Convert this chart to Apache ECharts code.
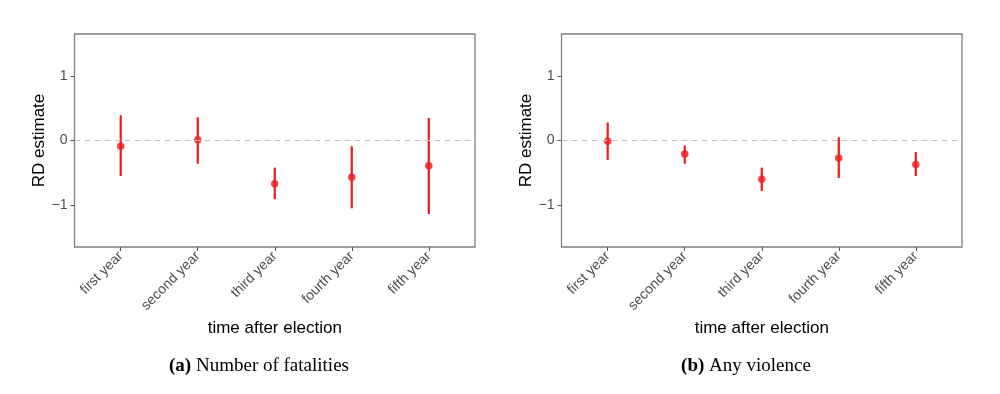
<!DOCTYPE html>
<html><head><meta charset="utf-8">
<script src="https://cdn.jsdelivr.net/npm/echarts@6/dist/echarts.min.js"></script>
<style>html,body{margin:0;padding:0;background:#fff}#c{width:1000px;height:394px}</style>
</head><body><div id="c"></div>
<script>
var categories = ['first year','second year','third year','fourth year','fifth year'];
var yTicks = [-1, 0, 1];
// Panel (a) Number of fatalities
var fatalEst   = [-0.09, 0.01, -0.67, -0.57, -0.39];
var fatalLow   = [-0.55, -0.36, -0.91, -1.05, -1.14];
var fatalHigh  = [0.39, 0.36, -0.42, -0.09, 0.35];
// Panel (b) Any violence
var violEst    = [-0.01, -0.21, -0.60, -0.27, -0.37];
var violLow    = [-0.30, -0.36, -0.78, -0.58, -0.55];
var violHigh   = [0.28, -0.08, -0.42, 0.05, -0.18];
var captions = [['(a)','Number of fatalities'],['(b)','Any violence']];

var RED = '#f0191c';
var xPos = categories.map(function(c,i){return i+1;});

function xAxisCfg(idx){
  return {
    type:'value', gridIndex:idx, min:0.4, max:5.6, position:'bottom',
    name:'time after election', nameLocation:'middle', nameGap:70,
    nameTextStyle:{color:'#000', fontSize:17, fontFamily:'Liberation Sans, Arial, sans-serif'},
    axisLine:{show:false, onZero:false},
    splitLine:{show:false},
    axisTick:{show:true, inside:false, customValues:xPos, length:4, lineStyle:{color:'#555', width:1}},
    axisLabel:{customValues:xPos, rotate:45, margin:7, color:'#4d4d4d', fontSize:14,
      fontFamily:'Liberation Sans, Arial, sans-serif',
      formatter:function(v){return categories[Math.round(v)-1] || '';}}
  };
}
function yAxisCfg(idx){
  return {
    type:'value', gridIndex:idx, min:-1.65, max:1.65, position:'left',
    name:'RD estimate', nameLocation:'middle', nameGap:27,
    nameTextStyle:{color:'#000', fontSize:17, fontFamily:'Liberation Sans, Arial, sans-serif'},
    axisLine:{show:false, onZero:false}, splitLine:{show:false},
    axisTick:{show:true, inside:false, customValues:yTicks, length:4, lineStyle:{color:'#555', width:1}},
    axisLabel:{customValues:yTicks, margin:7, color:'#4d4d4d', fontSize:14,
      fontFamily:'Liberation Sans, Arial, sans-serif',
      formatter:function(v){return v<0 ? '\u2212'+Math.abs(v) : String(v);}}
  };
}
function errSeries(idx, low, high){
  var data = xPos.map(function(x,i){return [x, low[i], high[i]];});
  return {
    type:'custom', xAxisIndex:idx, yAxisIndex:idx, data:data, z:3,
    renderItem:function(params, api){
      var p1 = api.coord([api.value(0), api.value(1)]);
      var p2 = api.coord([api.value(0), api.value(2)]);
      return {type:'line', shape:{x1:p1[0], y1:p1[1], x2:p2[0], y2:p2[1]},
        style:{stroke:RED, lineWidth:2.2}};
    }
  };
}
function ptSeries(idx, est){
  return {
    type:'scatter', xAxisIndex:idx, yAxisIndex:idx, z:4,
    data:xPos.map(function(x,i){return [x, est[i]];}),
    symbol:'circle', symbolSize:7.5, itemStyle:{color:RED},
    markLine:{silent:true, symbol:'none', label:{show:false},
      lineStyle:{color:'#c4c4c4', type:[6,4], width:1},
      data:[{yAxis:0}]}
  };
}
var chart = echarts.init(document.getElementById('c'), null, {renderer:'canvas'});
chart.setOption({
  animation:false,
  grid:[
    {left:74.5, top:34, width:400.5, height:213, show:true, borderColor:'#808080', borderWidth:1.3, backgroundColor:'transparent'},
    {left:561.5, top:34, width:400.5, height:213, show:true, borderColor:'#808080', borderWidth:1.3, backgroundColor:'transparent'}
  ],
  xAxis:[xAxisCfg(0), xAxisCfg(1)],
  yAxis:[yAxisCfg(0), yAxisCfg(1)],
  title:[0,1].map(function(i){
    return {
      text:'{b|'+captions[i][0]+'} '+captions[i][1],
      left: i===0 ? 254 : 741, top:352, textAlign:'center',
      textStyle:{fontFamily:'Liberation Serif, Times New Roman, serif', fontSize:19, fontWeight:'normal', color:'#000',
        rich:{b:{fontFamily:'Liberation Serif, Times New Roman, serif', fontSize:19, fontWeight:'bold', color:'#000'}}}
    };
  }),
  series:[
    errSeries(0, fatalLow, fatalHigh), ptSeries(0, fatalEst),
    errSeries(1, violLow, violHigh), ptSeries(1, violEst)
  ]
});
</script></body></html>
